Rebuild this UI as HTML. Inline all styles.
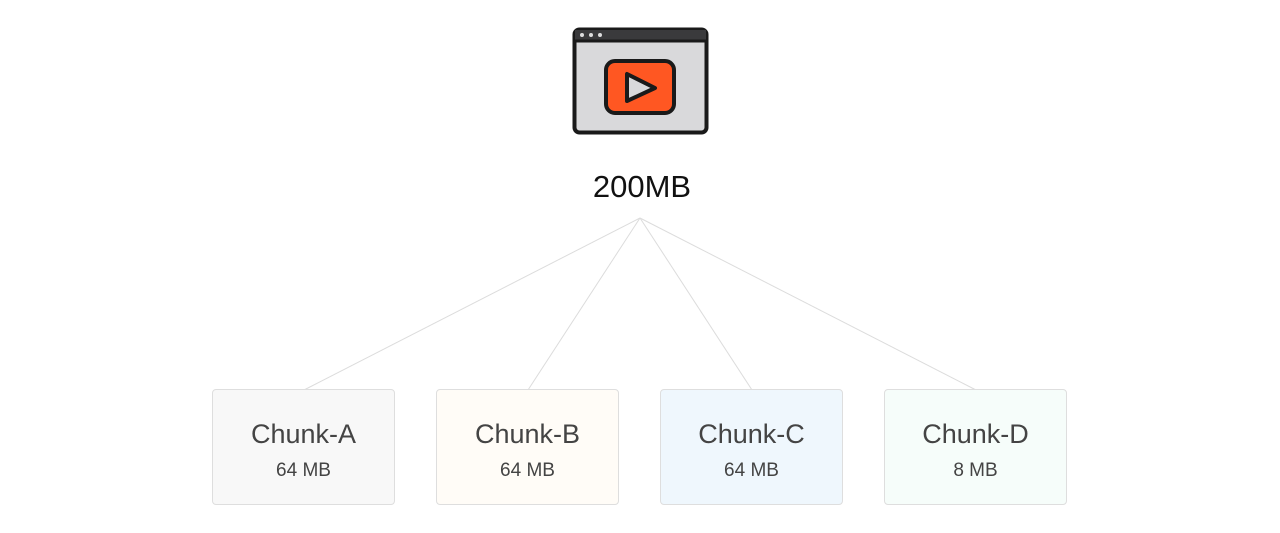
<!DOCTYPE html>
<html><head><style>
body{margin:0;width:1280px;height:533px;background:#fff;position:relative;font-family:"Liberation Sans",sans-serif;overflow:hidden}
.box{position:absolute;top:389px;width:183px;height:116px;border:1px solid #dedede;border-radius:4px;box-sizing:border-box;text-align:center;color:#444}
.t{position:absolute;top:29px;left:0;right:0;font-size:27px}
.s{position:absolute;top:70px;left:0;right:0;font-size:19px}
</style></head><body>
<svg width="1280" height="533" style="position:absolute;left:0;top:0">
<g stroke="#dcdcdc" stroke-width="1">
<line x1="640" y1="218" x2="304" y2="390"/>
<line x1="640" y1="218" x2="528" y2="390"/>
<line x1="640" y1="218" x2="752" y2="390"/>
<line x1="640" y1="218" x2="976" y2="390"/>
</g>
<rect x="574.5" y="29.5" width="132" height="103" rx="5" fill="#d9d9db" stroke="#1a1a1a" stroke-width="4"/>
<rect x="575" y="30" width="131" height="10" fill="#3a3a3c"/>
<line x1="574.5" y1="41" x2="706.5" y2="41" stroke="#1a1a1a" stroke-width="3"/>
<circle cx="582" cy="35" r="2" fill="#ddd"/><circle cx="591" cy="35" r="2" fill="#ddd"/><circle cx="600" cy="35" r="2" fill="#ddd"/>
<rect x="606" y="61" width="68" height="52" rx="9" fill="#ff5722" stroke="#1a1a1a" stroke-width="4"/>
<polygon points="627,74 627,101 655,88" fill="#d9d9db" stroke="#1a1a1a" stroke-width="4" stroke-linejoin="round"/>
<text x="642" y="197" text-anchor="middle" font-family="Liberation Sans, sans-serif" font-size="31" fill="#111">200MB</text>
</svg>
<div class="box" style="left:212px;background:#f8f8f8"><div class="t">Chunk-A</div><div class="s">64 MB</div></div>
<div class="box" style="left:436px;background:#fffcf7"><div class="t">Chunk-B</div><div class="s">64 MB</div></div>
<div class="box" style="left:660px;background:#eff7fd"><div class="t">Chunk-C</div><div class="s">64 MB</div></div>
<div class="box" style="left:884px;background:#f6fdfa"><div class="t">Chunk-D</div><div class="s">8 MB</div></div>
</body></html>
